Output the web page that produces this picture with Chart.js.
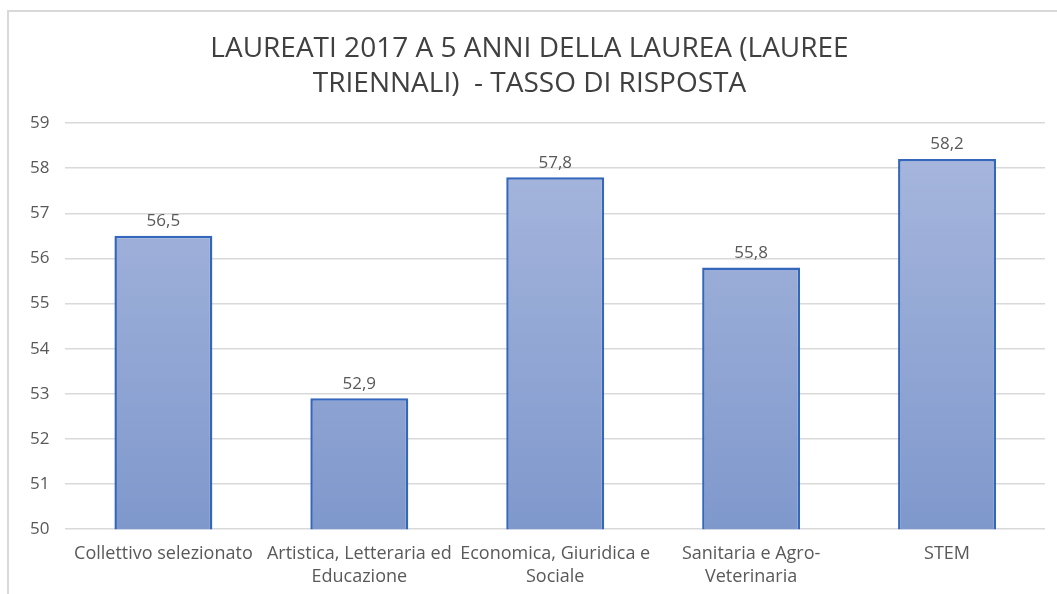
<!DOCTYPE html>
<html>
<head>
<meta charset="utf-8">
<script src="https://cdn.jsdelivr.net/npm/chart.js@4"></script>
<style>
  html, body { margin: 0; padding: 0; background: #fff; overflow: hidden; }
  #frame {
    position: absolute; left: 7px; top: 10px; width: 1070px; height: 610px;
    border: 2px solid #d9d9d9; box-sizing: border-box;
  }
  #wrap { position: absolute; left: 0; top: 0; width: 1057px; height: 602px; }
</style>
</head>
<body>
<div id="frame"></div>
<div id="wrap"><canvas id="grafico"></canvas></div>
<script>
// dati del grafico
const categorie = [
  "Collettivo selezionato",
  ["Artistica, Letteraria ed", "Educazione"],
  ["Economica, Giuridica e", "Sociale"],
  ["Sanitaria e Agro-", "Veterinaria"],
  "STEM"
];
const tassoRisposta = [56.5, 52.9, 57.8, 55.8, 58.2];
const titolo = ["LAUREATI 2017 A 5 ANNI DELLA LAUREA (LAUREE", "TRIENNALI)  - TASSO DI RISPOSTA"];

const FONT = "'Open Sans', sans-serif";

// etichette sopra le barre, con la virgola
const etichette = {
  id: "etichette",
  afterDatasetsDraw(chart) {
    const ctx = chart.ctx;
    const meta = chart.getDatasetMeta(0);
    ctx.save();
    ctx.font = "17px " + FONT;
    ctx.fillStyle = "#595959";
    ctx.textAlign = "center";
    ctx.textBaseline = "bottom";
    meta.data.forEach((bar, i) => {
      ctx.fillText(String(tassoRisposta[i]).replace(".", ","), bar.x, bar.y - 6);
    });
    ctx.restore();
  }
};

const ctx = document.getElementById("grafico").getContext("2d");

function gradiente(context) {
  const area = context.chart.chartArea;
  if (!area) return "#93a7d6";
  const g = context.chart.ctx.createLinearGradient(0, area.top, 0, area.bottom);
  g.addColorStop(0, "#a9b8de");
  g.addColorStop(1, "#7f98cc");
  return g;
}

new Chart(ctx, {
  type: "bar",
  data: {
    labels: categorie,
    datasets: [{
      data: tassoRisposta,
      backgroundColor: gradiente,
      borderColor: "#3466bb",
      borderWidth: 2.5,
      borderSkipped: "bottom",
      categoryPercentage: 1,
      barPercentage: 0.5
    }]
  },
  options: {
    responsive: true,
    maintainAspectRatio: false,
    animation: false,
    layout: { padding: { left: 14, right: 12, top: 32, bottom: 0 } },
    plugins: {
      legend: { display: false },
      tooltip: { enabled: false },
      title: {
        display: true,
        text: titolo,
        color: "#404040",
        font: { family: FONT, size: 28, weight: "normal", lineHeight: 1.25 },
        padding: { top: 0, bottom: 21 }
      }
    },
    scales: {
      x: {
        grid: { display: false, drawTicks: false },
        border: { display: false },
        ticks: {
          color: "#595959",
          font: { family: FONT, size: 18, lineHeight: 1.3 },
          maxRotation: 0,
          autoSkip: false,
          padding: 13
        }
      },
      y: {
        min: 50,
        max: 59,
        grid: { color: "#d9d9d9", lineWidth: 1.5, drawTicks: false },
        border: { display: false },
        ticks: {
          stepSize: 1,
          color: "#595959",
          font: { family: FONT, size: 17 },
          padding: 16
        }
      }
    }
  },
  plugins: [etichette]
});
</script>
</body>
</html>
